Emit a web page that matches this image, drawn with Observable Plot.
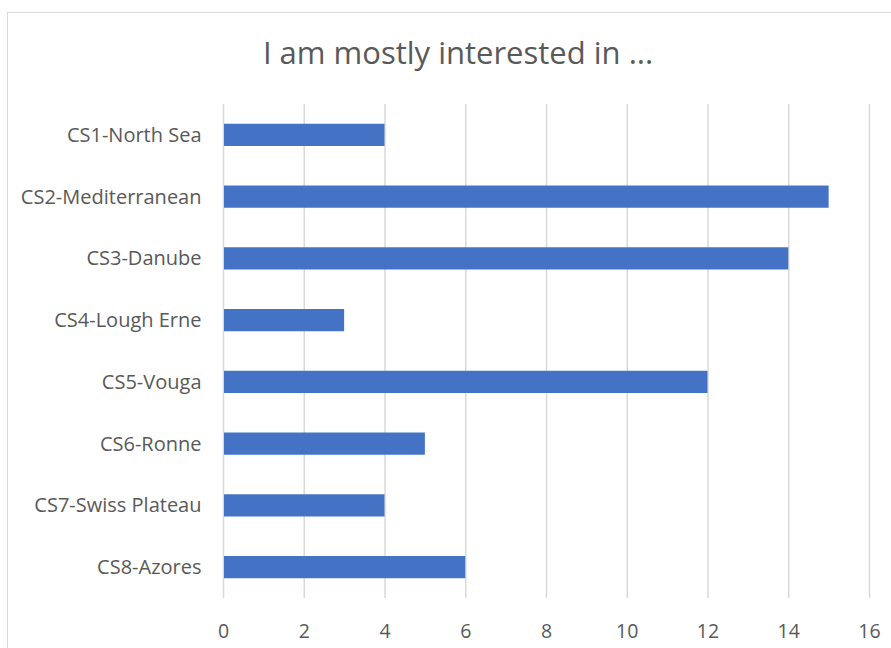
<!DOCTYPE html>
<html><head><meta charset="utf-8">
<script src="https://cdn.jsdelivr.net/npm/d3@7"></script>
<script src="https://cdn.jsdelivr.net/npm/@observablehq/plot@0.6"></script>
<style>
body{margin:0;background:#fff;overflow:hidden;}
#wrap{position:relative;width:891px;height:648px;overflow:hidden;}
#frame{position:absolute;left:7px;top:12px;width:900px;height:700px;border:1px solid #d9d9d9;}
#title{position:absolute;left:0;top:31px;width:916px;text-align:center;font-family:"Open Sans",sans-serif;font-size:31px;line-height:normal;color:#595959;}
#chart{position:absolute;left:0;top:0;}
</style></head>
<body><div id="wrap"><div id="frame"></div><div id="title">I am mostly interested in ...</div><div id="chart"></div></div>
<script>
const categories = ["CS1-North Sea","CS2-Mediterranean","CS3-Danube","CS4-Lough Erne","CS5-Vouga","CS6-Ronne","CS7-Swiss Plateau","CS8-Azores"];
const values = [4,15,14,3,12,5,4,6];
const xTicks = [0,2,4,6,8,10,12,14,16];
const data = categories.map((c,i)=>({category:c,value:values[i]}));
const plot = Plot.plot({
  width:891, height:648,
  marginLeft:223, marginRight:22, marginTop:104, marginBottom:50,
  style:{fontFamily:"Open Sans, sans-serif", fontSize:"20px", color:"#595959", background:"transparent"},
  x:{domain:[0,16], ticks:xTicks, label:null},
  y:{domain:categories, label:null, paddingInner:0.64, paddingOuter:0.32, round:false},
  marks:[
    Plot.ruleX(xTicks,{stroke:"#d9d9d9", strokeWidth:1.5}),
    Plot.barX(data,{x:"value", y:"category", fill:"#4472c4", insetLeft:1}),
    Plot.axisX({ticks:xTicks, tickSize:0, tickPadding:26, fontSize:19.5, label:null}),
    Plot.axisY({tickSize:0, tickPadding:22, fontSize:20, label:null})
  ]
});
document.getElementById("chart").appendChild(plot);
</script></body></html>
